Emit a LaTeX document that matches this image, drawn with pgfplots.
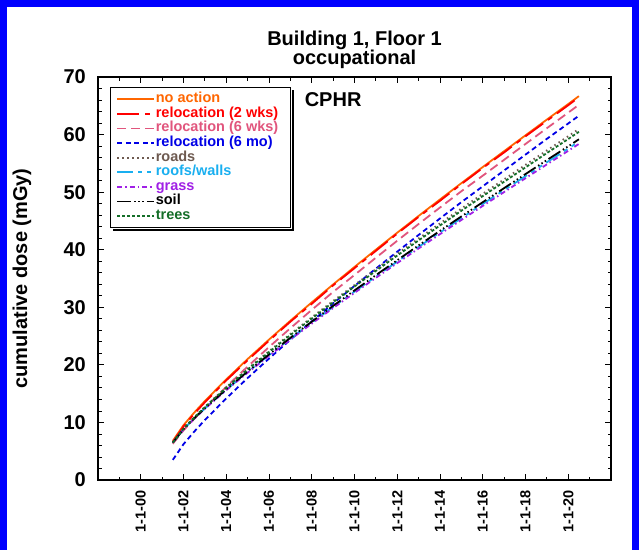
\documentclass[border=0pt]{standalone}
\usepackage{fontspec}
\setmainfont{Liberation Sans}
\usepackage{pgfplots}
\pgfplotsset{compat=1.18}
\usepackage{pgfplotstable}

\definecolor{cOrange}{RGB}{255,102,0}
\definecolor{cRed}{RGB}{255,0,0}
\definecolor{cPink}{RGB}{225,85,125}
\definecolor{cBlue}{RGB}{0,0,230}
\definecolor{cBrown}{RGB}{110,90,80}
\definecolor{cCyan}{RGB}{25,175,240}
\definecolor{cPurple}{RGB}{160,32,230}
\definecolor{cGreen}{RGB}{20,110,40}
\definecolor{cFrame}{RGB}{0,0,255}

\pgfplotstableread{
x    noaction rel2w rel6w rel6m roads roofs grass soil trees
1.5  6.80  6.60  6.30  3.50  6.50  6.50  6.50  6.50  6.50
2.0  9.52  9.30  8.62  6.22  8.93  8.81  8.78  8.83  8.90
2.5  11.70 11.50 10.60 8.40  10.89 10.68 10.64 10.72 10.84
3.0  13.72 13.50 12.52 10.42 12.71 12.42 12.37 12.48 12.65
4.0  17.48 17.30 16.18 14.18 16.11 15.68 15.60 15.76 16.01
5.0  21.01 20.80 19.71 17.71 19.31 18.75 18.64 18.85 19.19
6.0  24.39 24.20 23.09 21.09 22.38 21.69 21.56 21.81 22.23
7.0  27.67 27.50 26.37 24.37 25.37 24.55 24.40 24.70 25.18
8.0  30.85 30.60 29.55 27.55 28.26 27.33 27.16 27.50 28.05
9.0  33.97 33.80 32.67 30.67 31.10 30.06 29.87 30.25 30.87
10.0 37.01 36.80 35.61 33.71 33.87 32.72 32.51 32.93 33.61
11.0 40.01 39.80 38.61 36.71 36.61 35.35 35.12 35.58 36.32
12.0 42.96 42.80 41.56 39.66 39.30 37.93 37.68 38.18 38.99
13.0 45.87 45.70 44.47 42.57 41.96 40.49 40.22 40.75 41.62
14.0 48.73 48.50 47.33 45.43 44.57 43.00 42.71 43.28 44.21
15.0 51.56 51.40 50.16 48.26 47.15 45.48 45.17 45.78 46.77
16.0 54.36 54.20 52.86 51.01 49.71 47.94 47.61 48.26 49.31
17.0 57.12 56.90 55.62 53.77 52.23 50.36 50.02 50.70 51.81
18.0 59.87 59.70 58.37 56.52 54.75 52.78 52.42 53.14 54.30
19.0 62.61 62.40 61.11 59.26 57.25 55.19 54.82 55.57 56.79
20.0 65.31 65.10 63.81 61.93 59.72 57.57 57.18 57.96 59.23
20.5 66.68 66.50 65.18 63.28 60.98 58.78 58.38 59.18 60.48
}\data

\begin{document}
\begin{tikzpicture}[x=1pt,y=1pt]
\useasboundingbox (0,0) rectangle (639,550);
\fill[white] (0,0) rectangle (639,550);
\fill[cFrame] (0,0) rectangle (7,550);
\fill[cFrame] (0,543) rectangle (639,550);
\fill[cFrame] (632,0) rectangle (639,550);
\begin{axis}[
  at={(98pt,70pt)}, anchor=south west,
  scale only axis, width=513pt, height=403pt,
  xmin=-2, xmax=22, ymin=0, ymax=70,
  xtick={0,2,...,20},
  xticklabels={1-1-00,1-1-02,1-1-04,1-1-06,1-1-08,1-1-10,1-1-12,1-1-14,1-1-16,1-1-18,1-1-20},
  minor xtick={-1,1,...,21},
  ytick={0,10,...,70},
  minor y tick num=4,
  tick align=inside,
  major tick length=6pt, minor tick length=3.5pt,
  axis line style={line width=1.2pt},
  major tick style={line width=1pt, black},
  minor tick style={line width=0.8pt, black},
  /pgf/number format/assume math mode=true,
  yticklabel style={font=\fontsize{20}{20}\selectfont\bfseries, inner sep=0pt, anchor=east},
  yticklabel shift=12pt,
  xticklabel style={font=\fontsize{14.5}{14.5}\selectfont\bfseries, rotate=90, anchor=east, inner sep=0pt},
  xticklabel shift=10pt,
  title={Building 1, Floor 1\\occupational},
  title style={font=\fontsize{20}{19}\selectfont\bfseries, align=center, at={(axis description cs:0.5,1)}, anchor=south, inner sep=0pt, yshift=2pt},
  ylabel={cumulative dose (mGy)},
  every axis y label/.style={at={([xshift=-76pt]axis description cs:0,0.5)}, rotate=90, anchor=center, font=\fontsize{20}{20}\selectfont\bfseries},
  legend image code/.code={\draw[#1] (0pt,0pt) -- (37pt,0pt);},
  legend cell align=left,
  legend style={name=leg, at={(axis description cs:0.0234,0.975)}, anchor=north west,
    draw=black, line width=1pt, fill=white,
    font=\fontsize{14.5}{14.5}\selectfont\bfseries,
    inner xsep=6pt, inner ysep=5pt, row sep=1pt,
    nodes={inner sep=0.5pt, text height=9.6pt, text depth=3pt}},
]
\addplot[cOrange, line width=1.8pt] table[x=x,y=noaction]{\data};
\addlegendentry[text=cOrange]{no action}
\addplot[cRed, line width=1.8pt, dash pattern=on 22pt off 6pt on 5pt off 6pt] table[x=x,y=rel2w]{\data};
\addlegendentry[text=cRed]{relocation (2 wks)\hspace*{6pt}}
\addplot[cPink, line width=1.8pt, dash pattern=on 9pt off 5pt] table[x=x,y=rel6w]{\data};
\addlegendentry[text=cPink]{relocation (6 wks)}
\addplot[cBlue, line width=1.8pt, dash pattern=on 5pt off 3.5pt] table[x=x,y=rel6m]{\data};
\addlegendentry[text=cBlue]{relocation (6 mo)}
\addplot[cBrown, line width=1.8pt, dash pattern=on 1.5pt off 3.5pt] table[x=x,y=roads]{\data};
\addlegendentry[text=cBrown]{roads}
\addplot[cCyan, line width=1.8pt, dash pattern=on 16pt off 5pt on 4pt off 5pt on 4pt off 5pt] table[x=x,y=roofs]{\data};
\addlegendentry[text=cCyan]{roofs/walls}
\addplot[cPurple, line width=1.8pt, dash pattern=on 5pt off 3pt on 1.5pt off 3pt] table[x=x,y=grass]{\data};
\addlegendentry[text=cPurple]{grass}
\addplot[black, line width=1.8pt, dash pattern=on 14pt off 3pt on 1.5pt off 2.5pt on 1.5pt off 2.5pt on 1.5pt off 3pt] table[x=x,y=soil]{\data};
\addlegendentry[text=black]{soil}
\addplot[cGreen, line width=1.8pt, dash pattern=on 3pt off 2pt] table[x=x,y=trees]{\data};
\addlegendentry[text=cGreen]{trees}
\node[font=\fontsize{20}{20}\selectfont\bfseries] at (axis cs:9.0,66.0) {CPHR};
\end{axis}
\draw[line width=2pt, black] ([xshift=1.5pt,yshift=-3pt]leg.north east) -- ([xshift=1.5pt,yshift=-1.5pt]leg.south east) -- ([xshift=3pt,yshift=-1.5pt]leg.south west);
\end{tikzpicture}
\end{document}
